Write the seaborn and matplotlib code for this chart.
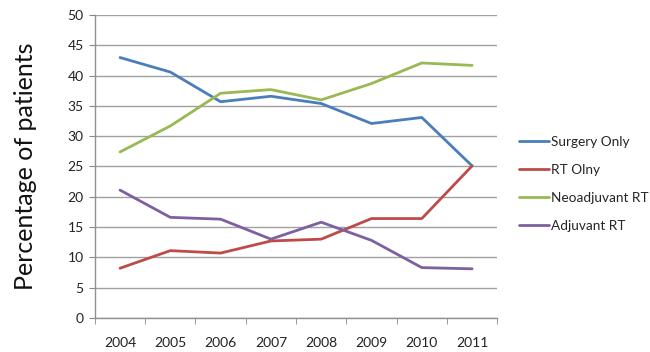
import matplotlib
matplotlib.use("Agg")
import matplotlib.pyplot as plt
import seaborn as sns
import pandas as pd
from matplotlib.lines import Line2D
from matplotlib.ticker import MultipleLocator

# Values
years = [2004, 2005, 2006, 2007, 2008, 2009, 2010, 2011]
surgery_only = [43.0, 40.6, 35.7, 36.6, 35.4, 32.1, 33.1, 25.1]
rt_only = [8.2, 11.1, 10.7, 12.7, 13.0, 16.4, 16.4, 25.1]
neoadjuvant_rt = [27.4, 31.7, 37.1, 37.7, 36.0, 38.7, 42.1, 41.7]
adjuvant_rt = [21.1, 16.6, 16.3, 13.0, 15.8, 12.8, 8.3, 8.1]

series_names = ["Surgery Only", "RT Olny", "Neoadjuvant RT", "Adjuvant RT"]
series_values = [surgery_only, rt_only, neoadjuvant_rt, adjuvant_rt]
colors = ["#4A7EBB", "#BE4B48", "#98B954", "#7D60A0"]

df = pd.DataFrame({
    "year": years * len(series_names),
    "value": [v for vals in series_values for v in vals],
    "series": [n for n in series_names for _ in years],
})

sns.set_style("white")
plt.rcParams["font.family"] = ["Lato", "DejaVu Sans"]

fig = plt.figure(figsize=(6.5, 3.52), dpi=100)
ax = fig.add_axes([0.146, 0.097, 0.619, 0.860])

sns.lineplot(data=df, x="year", y="value", hue="series", hue_order=series_names,
             palette=colors, linewidth=2, ax=ax, legend=False)

ax.set_xlim(2003.5, 2011.5)
ax.set_ylim(0, 50)
ax.yaxis.set_major_locator(MultipleLocator(5))
ax.set_xticks(years)
ax.set_xticklabels([str(y) for y in years])
ax.xaxis.set_minor_locator(MultipleLocator(1, offset=0.5))
ax.tick_params(axis="x", which="major", length=0, pad=14, labelsize=10, colors="#222222")
ax.tick_params(axis="x", which="minor", length=4, color="#888888", direction="out", bottom=True)
ax.tick_params(axis="y", length=4, color="#888888", direction="out", labelsize=10,
               labelcolor="#222222", left=True, pad=4)

ax.grid(axis="y", color="#a0a0a0", linewidth=1)
ax.set_axisbelow(True)
for side in ["top", "right"]:
    ax.spines[side].set_visible(False)
for side in ["left", "bottom"]:
    ax.spines[side].set_color("#909090")
    ax.spines[side].set_linewidth(1)

ax.set_xlabel("")
ax.set_ylabel("Percentage of patients", fontsize=18, color="#111111", labelpad=22)

handles = [Line2D([0], [0], color=c, linewidth=2) for c in colors]
fig.legend(handles, series_names, loc="upper left", bbox_to_anchor=(0.798, 0.614),
           frameon=False, fontsize=9.8, handlelength=2.2, handletextpad=0.2,
           labelspacing=1.17, borderpad=0, borderaxespad=0)

fig.savefig("out.png", dpi=100)
